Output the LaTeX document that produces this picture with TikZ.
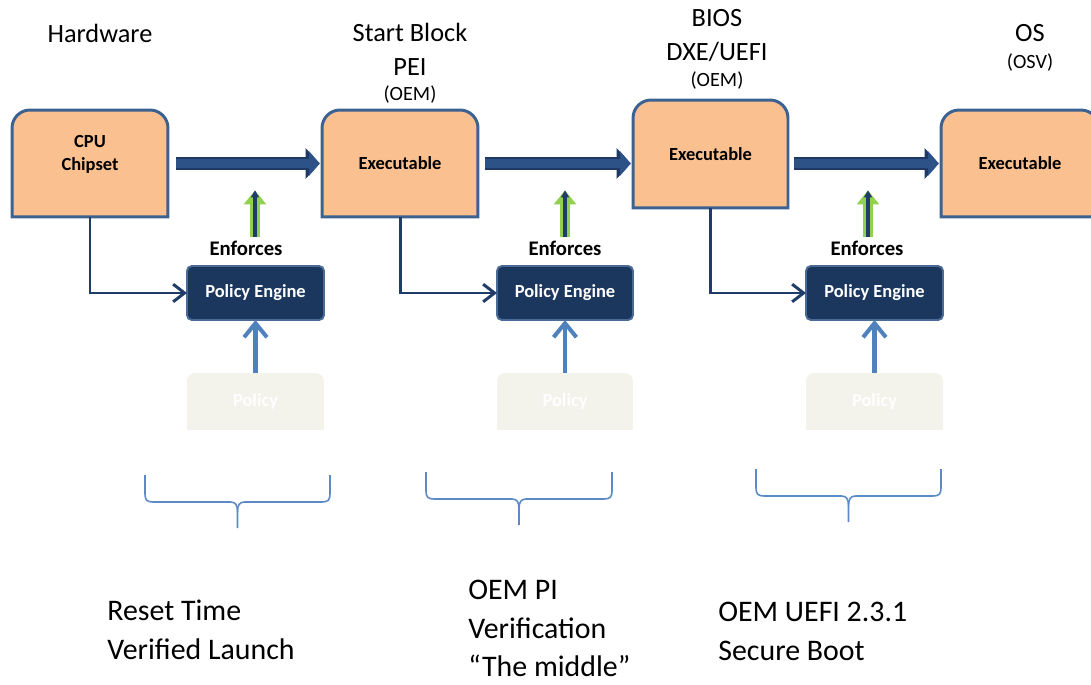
\documentclass[tikz,border=0pt]{standalone}
\usepackage{fontspec}
\setmainfont{Carlito}
\usetikzlibrary{
  arrows.meta,
  calc,
  positioning,
  backgrounds
}
\definecolor{exefill}{HTML}{FAC090}
\definecolor{exeedge}{HTML}{3C6291}
\definecolor{flowfill}{HTML}{2C5288}
\definecolor{flowedge}{HTML}{1F3864}
\definecolor{enginefill}{HTML}{1B375E}
\definecolor{engineedge}{HTML}{4A6B96}
\definecolor{ctrlblue}{HTML}{1F3D68}
\definecolor{enfgreen}{HTML}{92D050}
\definecolor{feedblue}{HTML}{4F81BD}
\definecolor{policyfill}{HTML}{F3F2EB}
\definecolor{bracecol}{HTML}{5B8AC6}
\tikzset{
  >=stealth,
  line cap=round,
  line join=round,
  exebox/.style={minimum width=3.12cm, minimum height=2.14cm, inner sep=0, outer sep=0, align=center, font=\fontsize{10.5}{13}\selectfont\bfseries},
  engine/.style={draw=engineedge, fill=enginefill, line width=1.1pt, rounded corners=2.8pt, minimum width=2.74cm, minimum height=1.08cm, outer sep=0, text=white, font=\fontsize{10.5}{12}\selectfont\bfseries},
  policybox/.style={minimum width=2.74cm, minimum height=1.14cm, outer sep=0, text=white, font=\fontsize{10.5}{12}\selectfont\bfseries},
  toplabel/.style={anchor=base, inner sep=0, font=\fontsize{15}{18}\selectfont},
  sublabel/.style={anchor=base, inner sep=0, font=\fontsize{11.5}{13}\selectfont},
  enftext/.style={inner sep=0, font=\fontsize{11.8}{13}\selectfont\bfseries},
  note/.style={anchor=north west, inner sep=0, align=left, font=\fontsize{17}{21.8}\selectfont},
  flow/.style={draw=flowfill, line width=5.2pt, line cap=butt, -{Triangle[length=6pt,width=13.5pt]}, shorten >=1.3pt, shorten <=1.1pt,
    preaction={draw=flowedge, line width=7.4pt, line cap=butt, -{Triangle[length=8pt,width=17pt]}}},
  enforce/.style={draw=ctrlblue, line width=2.2pt, line cap=butt, -{Triangle[length=4pt,width=4.5pt]}, shorten >=2.5pt, shorten <=1pt,
    preaction={draw=enfgreen, line width=5.2pt, line cap=butt, -{Triangle[length=8pt,width=12.5pt]}}},
  ctrl/.style={draw=ctrlblue, line width=1.7pt, line cap=butt, -{Straight Barb[length=6.5pt,width=10pt]}},
  feed/.style={draw=feedblue, line width=2.3pt, line cap=butt, -{Straight Barb[length=8pt,width=13pt]}},
  bracket/.style={draw=bracecol, line width=0.9pt}
}
\begin{document}
\begin{tikzpicture}[x=0.02cm,y=0.02cm]
\useasboundingbox (0,0) rectangle (1091,684);

% 단계 상자
\node[exebox] (cpu) at (90,520.5) {};
\node[exebox] (cpulbl) at (90,529.5) {CPU\\Chipset};
\node[exebox] (pei) at (400,520.5) {Executable};
\node[exebox, minimum width=3.10cm, minimum height=2.16cm] (dxe) at (710.5,530) {Executable};
\node[exebox, minimum width=3.16cm] (os) at (1020,520.5) {Executable};

% 정책 엔진
\node[engine] (pe1) at (255.5,391) {Policy Engine};
\node[engine, minimum width=2.72cm] (pe2) at (565,391) {Policy Engine};
\node[engine] (pe3) at (874.5,391) {Policy Engine};

% 정책
\node[policybox] (pol1) at (255.5,282.5) {Policy};
\node[policybox, minimum width=2.72cm] (pol2) at (565,282.5) {Policy};
\node[policybox] (pol3) at (874.5,282.5) {Policy};

% 상자 모양 (위쪽만 둥글게)
\begin{scope}[on background layer]
  \foreach \n in {cpu,pei,dxe,os}
    \filldraw[fill=exefill, draw=exeedge, line width=1.7pt]
      (\n.south west) -- ($(\n.north west)+(0,-18)$) arc[start angle=180,end angle=90,radius=18]
      -- ($(\n.north east)+(-18,0)$) arc[start angle=90,end angle=0,radius=18] -- (\n.south east) -- cycle;
  \foreach \n in {pol1,pol2,pol3}
    \fill[policyfill]
      (\n.south west) -- ($(\n.north west)+(0,-8)$) arc[start angle=180,end angle=90,radius=8]
      -- ($(\n.north east)+(-8,0)$) arc[start angle=90,end angle=0,radius=8] -- (\n.south east) -- cycle;
\end{scope}

% 단계 레이블
\node[toplabel] (hwlbl) at (100,641) {Hardware};
\node[toplabel] (sblbl) at (410,642) {Start Block};
\node[toplabel] (peilbl) at (410,608) {PEI};
\node[sublabel] (oem1) at (410,583) {(OEM)};
\node[toplabel] (bioslbl) at (717,657) {BIOS};
\node[toplabel] (dxelbl) at (717,623) {DXE/UEFI};
\node[sublabel] (oem2) at (717,597) {(OEM)};
\node[toplabel] (oslbl) at (1030,642) {OS};
\node[sublabel] (osv) at (1030,615) {(OSV)};

% 흐름 화살표
\draw[flow] ($(cpu.east)+(6,0)$) -- (pei.west);
\draw[flow] ($(pei.east)+(5,0)$) -- (dxe.west |- pei.east);
\draw[flow] ($(dxe.east |- os.west)+(4,0)$) -- (os.west);

% Enforces
\node[enftext] (enf1) at (246,436) {Enforces};
\node[enftext] (enf2) at (565,436) {Enforces};
\node[enftext] (enf3) at (867,436) {Enforces};
\coordinate (gb1) at (255,445);
\coordinate (gt1) at (255,498);
\coordinate (gb2) at (565,445);
\coordinate (gt2) at (565,498);
\coordinate (gb3) at (868,445);
\coordinate (gt3) at (868,498);
\draw[enforce] (gb1) -- (gt1);
\draw[enforce] (gb2) -- (gt2);
\draw[enforce] (gb3) -- (gt3);

% 제어 연결
\draw[ctrl] (cpu.south) |- (pe1.west);
\draw[ctrl] (pei.south) |- (pe2.west);
\draw[ctrl] (dxe.south) |- (pe3.west);

\draw[feed] (pol1.north) -- (pe1.south);
\draw[feed] (pol2.north) -- (pe2.south);
\draw[feed] (pol3.north) -- (pe3.south);

% 중괄호
\foreach \l/\r/\t in {145/330/209, 426/612/212, 756/941/215} {
  \pgfmathsetmacro\midx{(\l+\r)/2}
  \pgfmathsetmacro\liney{\t-27}
  \draw[bracket] (\l,\t) -- (\l,\liney+8) .. controls (\l,\liney+2) and (\l+2,\liney) .. (\l+8,\liney)
    -- (\midx-7,\liney) .. controls (\midx-2,\liney) and (\midx,\liney-3) .. (\midx,\liney-10) -- (\midx,\liney-26);
  \draw[bracket] (\r,\t) -- (\r,\liney+8) .. controls (\r,\liney+2) and (\r-2,\liney) .. (\r-8,\liney)
    -- (\midx+7,\liney) .. controls (\midx+2,\liney) and (\midx,\liney-3) .. (\midx,\liney-10);
}

% 설명
\node[note] (note1) at (107,84) {Reset Time\\Verified Launch};
\node[note] (note2) at (468,104) {OEM PI\\Verification\\“The middle”};
\node[note] (note3) at (718,82) {OEM UEFI 2.3.1\\Secure Boot};

\end{tikzpicture}
\end{document}
